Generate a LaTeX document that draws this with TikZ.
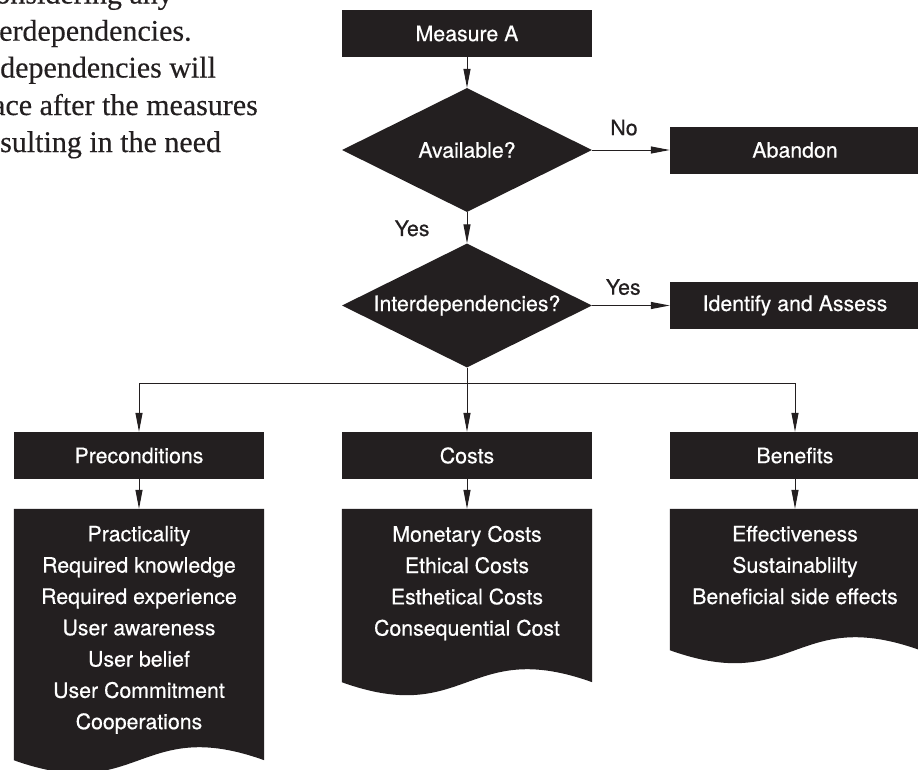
\documentclass[tikz,border=0pt]{standalone}
\usepackage{fontspec}
\setmainfont{TeX Gyre Heros}
\newfontfamily\diagff[FakeBold=0.5]{TeX Gyre Heros}
\newfontfamily\serifpara[FakeBold=0.3]{Liberation Serif}
\usetikzlibrary{shapes.geometric,arrows.meta}
\definecolor{ink}{HTML}{231F20}
\newcommand\diagfont{\diagff\fontsize{21.3}{25}\selectfont}
\newcommand\diaglines{\diagff\fontsize{21.3}{31.3}\selectfont}
\begin{document}
\begin{tikzpicture}[x=1pt,y=-1pt,
  box/.style={rectangle, fill=ink, text=white, minimum width=250pt, minimum height=47pt, inner sep=0pt, font=\diagfont},
  dec/.style={diamond, fill=ink, text=white, minimum width=250pt, minimum height=124pt, aspect=2, inner sep=0pt, font=\diagfont},
  docarea/.style={rectangle, minimum width=250pt, inner sep=0pt},
  doctext/.style={text=white, align=center, anchor=north, inner sep=0pt, font=\diaglines},
  arr/.style={draw=ink, line width=1pt, -{Triangle[length=19pt,width=7pt]}},
  lbl/.style={text=ink, inner sep=0pt, font=\diagfont},
  paraR/.style={text=ink, anchor=base east, inner sep=0pt, font=\serifpara\fontsize{30}{37}\selectfont},
  paraL/.style={text=ink, anchor=base west, inner sep=0pt, font=\serifpara\fontsize{30}{37}\selectfont}]
\useasboundingbox (0,0) rectangle (918,769);
\fill[white] (0,0) rectangle (918,769);

% paragraph fragments
\node[paraR] (p1) at (173,3.5) {considering any};
\node[paraL] (p2) at (-1,40.7) {erdependencies.};
\node[paraL] (p3) at (0,77.5) {dependencies will};
\node[paraR] (p4) at (258,115) {face after the measures};
\node[paraL] (p5) at (0,152) {sulting in the need};

% main flow
\node[box] (measure) at (467,33.5) {Measure A};
\node[dec] (avail) at (467,150) {Available?};
\node[box] (abandon) at (795,150) {Abandon};
\node[dec] (inter) at (467,305.5) {Interdependencies?};
\node[box] (identify) at (795,305.5) {Identify and Assess};
\coordinate (bus) at (467,383);
\node[box] (precond) at (139,455.5) {Preconditions};
\node[box] (costs) at (467,455.5) {Costs};
\node[box] (benefits) at (795,455.5) {Benefits};

% documents
\node[docarea, minimum height=251pt] (pdoc) at (139,634.5) {};
\node[docarea, minimum height=173pt] (cdoc) at (467,595.5) {};
\node[docarea, minimum height=141pt] (bdoc) at (795,579.5) {};
\foreach \d in {pdoc,cdoc,bdoc}{
  \fill[ink] (\d.north west) -- (\d.north east) -- (\d.south east)
    .. controls +(-125,-45) and +(125,45) .. (\d.south west) -- cycle;
}
\node[doctext] (ptext) at (139,525.6) {Practicality\\Required knowledge\\Required experience\\User awareness\\User belief\\User Commitment\\Cooperations};
\node[doctext] (ctext) at (467,525.6) {Monetary Costs\\Ethical Costs\\Esthetical Costs\\Consequential Cost};
\node[doctext] (btext) at (795,525.6) {Effectiveness\\Sustainablilty\\Beneficial side effects};

% connectors
\draw[arr] (measure) -- (avail);
\draw[arr] (avail) -- node[lbl, pos=0.41, above=14pt] {No} (abandon);
\draw[arr] (avail) -- node[lbl, pos=0.52, left=37pt] {Yes} (inter);
\draw[arr] (inter) -- node[lbl, pos=0.4, above=10pt] {Yes} (identify);
\draw[arr] (inter) -- (costs);
\draw[arr] (bus) -| (precond);
\draw[arr] (bus) -| (benefits);
\draw[arr] (precond) -- (pdoc);
\draw[arr] (costs) -- (cdoc);
\draw[arr] (benefits) -- (bdoc);
\end{tikzpicture}
\end{document}
